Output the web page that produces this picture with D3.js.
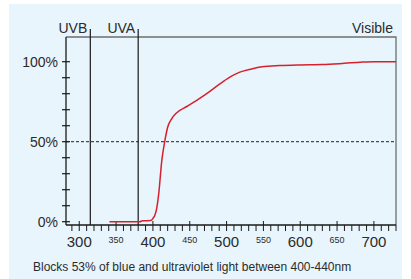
<!DOCTYPE html>
<html>
<head>
<meta charset="utf-8">
<script src="https://cdn.jsdelivr.net/npm/d3@7"></script>
<style>
  body { margin: 0; background: #fff; }
  text { font-family: "Liberation Sans", Arial, sans-serif; fill: #2b2b2b; }
</style>
</head>
<body>
<svg id="chart" width="411" height="279"></svg>
<script>
// transmission curve (wavelength nm, % transmission)
const wavelengths = [341, 382, 386, 397, 400, 403, 405, 408, 412, 416, 420, 425, 432, 446, 460, 473, 489, 505, 518, 534, 548, 572, 600, 630, 660, 682, 700, 730];
const percents    = [0,   0,   0.6, 0.7, 2,   4.5, 8,   18,  38,  50,  59,  64,  68,  72,  76,  80,  85.5, 90.5, 93.5, 95.5, 96.8, 97.6, 98, 98.2, 99, 99.7, 100, 100];

const majorTicks = [300, 400, 500, 600, 700];
const minorLabels = [350, 450, 550, 650];
const yLabels = [0, 50, 100];
const bands = [{name: "UVB", at: 315}, {name: "UVA", at: 380}];
const caption = "Blocks 53% of blue and ultraviolet light between 400-440nm";

const svg = d3.select("#chart");
const plotL = 66, plotR = 396, plotT = 37, plotB = 225;

// panel background
svg.append("rect").attr("x", 9).attr("y", 4).attr("width", 393).attr("height", 275)
  .attr("fill", "#e8f5fc");

const x = d3.scaleLinear().domain([282, 730]).range([plotL, plotR]);
const y = d3.scaleLinear().domain([0, 100]).range([221.7, 61.7]);

// frame top + right (grey)
svg.append("path")
  .attr("d", `M${plotL},${plotT}H${plotR}V${plotB}`)
  .attr("fill", "none").attr("stroke", "#6e6e6e").attr("stroke-width", 1.3);

// 50% dashed
svg.append("line")
  .attr("x1", plotL).attr("x2", plotR).attr("y1", y(50)).attr("y2", y(50))
  .attr("stroke", "#222").attr("stroke-width", 1).attr("stroke-dasharray", "3,2");

// band boundaries
bands.forEach(b => {
  svg.append("line").attr("x1", x(b.at)).attr("x2", x(b.at)).attr("y1", 29).attr("y2", plotB)
    .attr("stroke", "#1a1a1a").attr("stroke-width", 1.2);
  svg.append("text").attr("x", x(b.at) - 3).attr("y", 33)
    .attr("text-anchor", "end").style("font-size", "14px").text(b.name);
});
svg.append("text").attr("x", 393).attr("y", 33)
  .attr("text-anchor", "end").style("font-size", "14px").text("Visible");

// y axis
svg.append("line").attr("x1", plotL).attr("x2", plotL).attr("y1", plotT).attr("y2", plotB)
  .attr("stroke", "#1a1a1a").attr("stroke-width", 1.3);
svg.append("g").selectAll("line").data(d3.range(0, 101, 10)).join("line")
  .attr("x1", plotL - 4).attr("x2", plotL + 4)
  .attr("y1", d => y(d)).attr("y2", d => y(d))
  .attr("stroke", "#1a1a1a").attr("stroke-width", 1.2);
svg.append("g").selectAll("text").data(yLabels).join("text")
  .attr("x", 58).attr("y", d => y(d) + 5)
  .attr("text-anchor", "end").style("font-size", "14px")
  .text(d => d + "%");

// x axis
svg.append("line").attr("x1", plotL).attr("x2", plotR).attr("y1", plotB).attr("y2", plotB)
  .attr("stroke", "#1a1a1a").attr("stroke-width", 1.3);
svg.append("g").selectAll("line").data(d3.range(290, 731, 10)).join("line")
  .attr("x1", d => x(d)).attr("x2", d => x(d))
  .attr("y1", d => d % 50 === 0 ? plotB - 4 : plotB)
  .attr("y2", plotB + 6)
  .attr("stroke", "#1a1a1a").attr("stroke-width", 1);
svg.append("g").selectAll("text").data(majorTicks).join("text")
  .attr("x", d => x(d)).attr("y", 247)
  .attr("text-anchor", "middle").style("font-size", "15px")
  .text(d => d);
svg.append("g").selectAll("text").data(minorLabels).join("text")
  .attr("x", d => x(d)).attr("y", 243)
  .attr("text-anchor", "middle").style("font-size", "9px")
  .text(d => d);

// curve
const line = d3.line().x(d => x(d[0])).y(d => y(d[1])).curve(d3.curveMonotoneX);
svg.append("path")
  .datum(wavelengths.map((w, i) => [w, percents[i]]))
  .attr("d", line)
  .attr("fill", "none").attr("stroke", "#d7202c").attr("stroke-width", 1.5);

// caption
svg.append("text").attr("x", 33).attr("y", 271)
  .style("font-size", "12px").text(caption);
</script>
</body>
</html>
